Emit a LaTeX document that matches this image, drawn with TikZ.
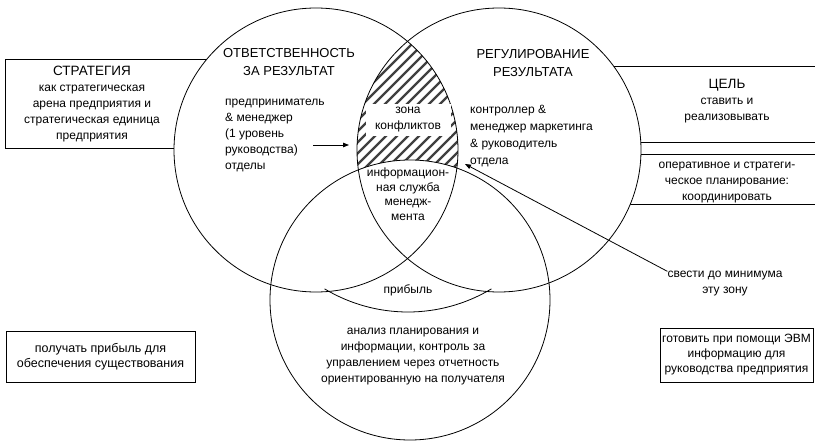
\documentclass[tikz,border=0pt]{standalone}
\usepackage{fontspec}
\setmainfont{Liberation Sans}
\usetikzlibrary{arrows.meta,positioning,calc}

\tikzset{
  body/.style={font=\fontsize{12}{16}\selectfont,align=center,inner sep=0pt},
  ttl/.style={font=\fontsize{13}{18.5}\selectfont,align=center,inner sep=0pt},
  tbox/.style={draw,thick,font=\fontsize{12.5}{15}\selectfont,align=center,inner sep=0pt},
  ring/.style={draw,thick},
  hatch/.style={line width=2.4pt,black!75}
}

\begin{document}
\begin{tikzpicture}[x=1pt,y=-1pt,>={Triangle[length=6pt,width=4.5pt]}]
\useasboundingbox (0,0) rectangle (815,441);
\clip (0,0) rectangle (815,441);

% rectangles behind the circles
\draw[thick] (5,59) rectangle (240,148);
\draw[thick] (580,66) rectangle (830,142);
\draw[thick] (580,154) rectangle (830,204);

% circles, filled white
\fill[white] (316,150) circle (142);
\fill[white] (499,150) circle (142);
\fill[white] (410,300) circle (140);

% zone of conflicts
\begin{scope}
\clip (316,150) circle (142);
\clip (499,150) circle (142);
\foreach \k in {0,...,32}
  \draw[hatch] ({120+11*\k},270) -- ++(240,-240);
\end{scope}
\fill[white] (410,300) circle (140);

\draw[ring] (316,150) circle (142);
\draw[ring] (499,150) circle (142);
\draw[ring] (410,300) circle (140);
\draw[ring] (408,150) ++(121:162) arc (121:59:162);

% texts
\node[body] (strat) at (92,104) {{\fontsize{13.5}{16}\selectfont СТРАТЕГИЯ}\\как стратегическая\\арена предприятия и\\стратегическая единица\\предприятия};
\node[ttl] (otv) at (289,62) {ОТВЕТСТВЕННОСТЬ\\ЗА РЕЗУЛЬТАТ};
\node[body,align=left,anchor=west] (predp) at (225,135) {предприниматель\\\& менеджер\\(1 уровень\\руководства)\\отделы};
\node[ttl] (regul) at (533,63) {РЕГУЛИРОВАНИЕ\\РЕЗУЛЬТАТА};
\node[body,align=left,anchor=west,font=\fontsize{12}{17}\selectfont] (kontr) at (470,136) {контроллер \&\\менеджер маркетинга\\\& руководитель\\отдела};
\node[body,fill=white,minimum width=85,minimum height=32] (zona) at (408,120) {зона\\конфликтов};
\node[body,font=\fontsize{12}{14.5}\selectfont] (info) at (408,194) {информацион-\\ная служба\\менедж-\\мента};
\node[body] (prib) at (408,290) {прибыль};
\node[body] (anal) at (413,357) {анализ планирования и\\информации, контроль за\\управлением через отчетность\\ориентированную на получателя};
\node[body] (cel) at (727,101) {{\fontsize{13.5}{16}\selectfont ЦЕЛЬ}\\ставить и\\реализовывать};
\node[body] (oper) at (727,183) {оперативное и стратеги-\\ческое планирование:\\координировать};
\node[body] (svest) at (725,284) {свести до минимума\\эту зону};
\node[tbox,minimum width=189,minimum height=51] (poluch) at (100.5,356.5) {получать прибыль для\\обеспечения существования};
\node[tbox,minimum width=153,minimum height=54,font=\fontsize{12}{15}\selectfont] (gotov) at (736.5,355) {готовить при помощи ЭВМ\\информацию для\\руководства предприятия};

% arrows
\coordinate (arrL) at (313,145);
\coordinate (lensW) at (349,145);
\coordinate (tipB) at (465,164);
\draw[thick,->] (arrL) -- (lensW);
\draw[thick,->] (svest.north west) -- (tipB);
\end{tikzpicture}
\end{document}
